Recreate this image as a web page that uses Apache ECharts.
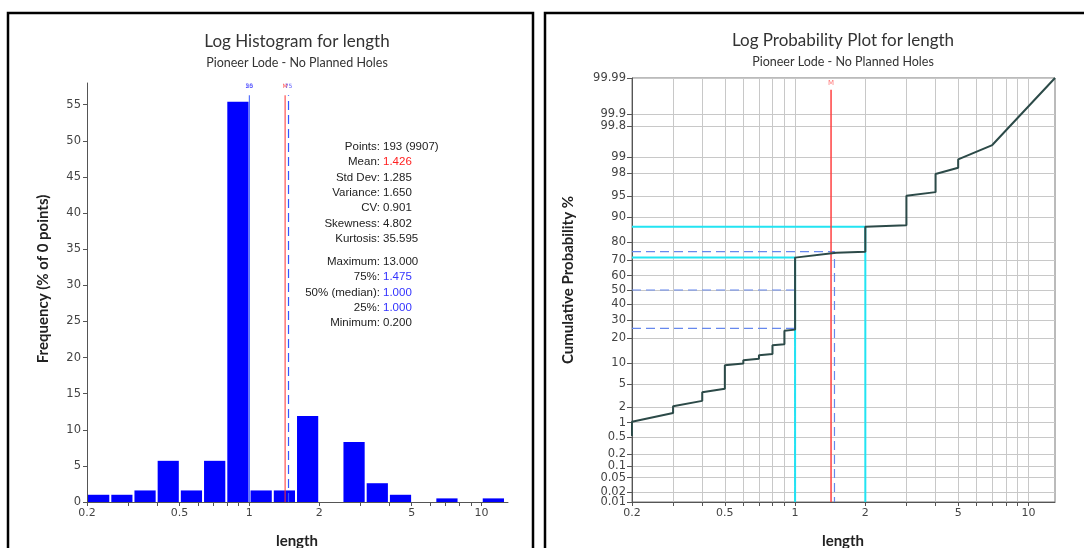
<!DOCTYPE html>
<html><head><meta charset="utf-8">
<script src="https://cdn.jsdelivr.net/npm/echarts@6/dist/echarts.min.js"></script>
<style>html,body{margin:0;padding:0;background:#fff}#c{width:1084px;height:548px}</style>
</head><body><div id="c"></div><script>
// ---------- data ----------
const binEdges = [0.2,0.252,0.317,0.399,0.502,0.632,0.796,1.002,1.262,1.589,2.0,2.518,3.170,3.991,5.024,6.325,7.962,10.02,12.62];
const binFreq  = [1.0,1.0,1.6,5.7,1.6,5.7,55.4,1.6,1.6,11.9,0,8.3,2.6,1.0,0,0.5,0,0.5];
const xLabelTicks = [0.2,0.5,1,2,5,10];
const xMinorTicks = [0.2,0.3,0.4,0.5,0.6,0.7,0.8,0.9,1,2,3,4,5,6,7,8,9,10];
const freqTicks = [0,5,10,15,20,25,30,35,40,45,50,55];
const probTicks = [0.01,0.02,0.05,0.1,0.2,0.5,1,2,5,10,20,30,40,50,60,70,80,90,95,98,99,99.8,99.9,99.99];
const probCurve = [[0.2,0.52],[0.2,1.04],[0.3,1.55],[0.3,2.07],[0.4,2.59],[0.4,3.63],[0.5,4.15],[0.5,9.33],
  [0.6,9.84],[0.6,10.88],[0.7,11.4],[0.7,12.6],[0.8,13.1],[0.8,16.6],[0.9,17.1],[0.9,23.8],[1.0,24.35],[1.0,71.5],
  [1.5,74.3],[2.0,74.9],[2.0,86.6],[3.0,87.2],[3.0,95.1],[4.0,95.7],[4.0,97.9],[5.0,98.4],[5.0,98.9],[7.0,99.45],[13.0,99.99]];
const cyanMarks = [[1.0,71.5],[2.0,86.6]];
const statLabels1 = ['Points:','Mean:','Std Dev:','Variance:','CV:','Skewness:','Kurtosis:'];
const statValues1 = ['193 (9907)','1.426','1.285','1.650','0.901','4.802','35.595'];
const statLabels2 = ['Maximum:','75%:','50% (median):','25%:','Minimum:'];
const statValues2 = ['13.000','1.475','1.000','1.000','0.200'];
const meanVal = 1.426, q75 = 1.475, q50 = 1.0, q25 = 1.0;
const xMin = 0.2, xMax = 13.0;
const freqMax = 58, freqLineTop = 56.3, freqLabelY = 57.5;
const probMin = 0.01, probMax = 99.99, probLineTop = 99.978, probLabelP = 99.986;

// ---------- helpers ----------
function probit(p){
 const a=[-3.969683028665376e+01,2.209460984245205e+02,-2.759285104469687e+02,1.383577518672690e+02,-3.066479806614716e+01,2.506628277459239e+00];
 const b=[-5.447609879822406e+01,1.615858368580409e+02,-1.556989798598866e+02,6.680131188771972e+01,-1.328068155288572e+01];
 const c=[-7.784894002430293e-03,-3.223964580411365e-01,-2.400758277161838e+00,-2.549732539343734e+00,4.374664141464968e+00,2.938163982698783e+00];
 const d=[7.784695709041462e-03,3.224671290700398e-01,2.445134137142996e+00,3.754408661907416e+00];
 const pl=0.02425, ph=1-pl; let q,r;
 if(p<pl){q=Math.sqrt(-2*Math.log(p));return (((((c[0]*q+c[1])*q+c[2])*q+c[3])*q+c[4])*q+c[5])/((((d[0]*q+d[1])*q+d[2])*q+d[3])*q+1);}
 if(p<=ph){q=p-0.5;r=q*q;return (((((a[0]*r+a[1])*r+a[2])*r+a[3])*r+a[4])*r+a[5])*q/(((((b[0]*r+b[1])*r+b[2])*r+b[3])*r+b[4])*r+1);}
 q=Math.sqrt(-2*Math.log(1-p));return -(((((c[0]*q+c[1])*q+c[2])*q+c[3])*q+c[4])*q+c[5])/((((d[0]*q+d[1])*q+d[2])*q+d[3])*q+1);
}
const L = v => Math.log10(v);
const Z = pct => probit(pct/100);
const EPS = 1e-7;
const nearest = (list, f, v) => list.reduce((best,t)=> Math.abs(f(t)-v) < Math.abs(f(best)-v) ? t : best, list[0]);
const xFmt = v => String(nearest(xLabelTicks, L, v));
const pFmt = v => String(nearest(probTicks, Z, v));
const xy = pts => pts.map(p => [L(p[0]), Z(p[1])]);

const labelFont = 'DejaVu Sans';
const axisCol = '#555';
function xAxisCfg(gi, grid){
  return {type:'value', gridIndex:gi, min:L(xMin)-EPS, max:L(xMax)+EPS,
    axisLine:{show:true, onZero:false, lineStyle:{color:axisCol, width:1}},
    axisTick:{show:true, length:4, customValues:xMinorTicks.map(L), lineStyle:{color:axisCol}},
    axisLabel:{customValues:xLabelTicks.map(L), formatter:xFmt, color:'#444', fontSize:11, fontFamily:labelFont, margin:6,
      showMinLabel:true, showMaxLabel:true, hideOverlap:false},
    splitLine:{show:grid, lineStyle:{color:'#c8c8c8', width:1}}};
}
const probAxisBase = {type:'value', gridIndex:1, min:Z(probMin)-EPS, max:Z(probMax)+EPS};

const chart = echarts.init(document.getElementById('c'), null, {renderer:'canvas'});
const txt = (text, x, y, o={}) => ({type:'text', x, y, rotation:o.rot||0, z:10, style:Object.assign({text, align:o.align||'center', verticalAlign:'middle',
  fontSize:o.size||12, fontFamily:o.font||'Lato', fontWeight:o.weight||'normal', fill:o.fill||'#333'})});

const graphics = [
  {type:'rect', shape:{x:8,y:13,width:525,height:560}, style:{fill:null, stroke:'#000', lineWidth:2.5}},
  {type:'rect', shape:{x:545,y:13,width:600,height:560}, style:{fill:null, stroke:'#000', lineWidth:2.5}},
  txt('Log Histogram for length', 297, 42, {size:17}),
  txt('Pioneer Lode - No Planned Holes', 297, 63, {size:12.5}),
  txt('Log Probability Plot for length', 843, 41, {size:17}),
  txt('Pioneer Lode - No Planned Holes', 843, 62, {size:12.5}),
  txt('Frequency (% of 0 points)', 43, 279, {size:15, weight:'bold', rot:Math.PI/2, fill:'#222'}),
  txt('Cumulative Probability %', 568, 280, {size:15, weight:'bold', rot:Math.PI/2, fill:'#222'}),
  txt('length', 297, 541, {size:15, weight:'bold', fill:'#222'}),
  txt('length', 843, 541, {size:15, weight:'bold', fill:'#222'})
];
const valColor = (lbl) => lbl==='Mean:' ? '#ff2020' : (/%/.test(lbl) ? '#3333ff' : '#222');
statLabels1.forEach((l,i)=>{
  graphics.push(txt(l, 380, 147+i*15.3, {align:'right', font:'Liberation Sans', size:11.5, fill:'#222'}));
  graphics.push(txt(statValues1[i], 383, 147+i*15.3, {align:'left', font:'Liberation Sans', size:11.5, fill:valColor(l)}));
});
statLabels2.forEach((l,i)=>{
  graphics.push(txt(l, 380, 262+i*15.2, {align:'right', font:'Liberation Sans', size:11.5, fill:'#222'}));
  graphics.push(txt(statValues2[i], 383, 262+i*15.2, {align:'left', font:'Liberation Sans', size:11.5, fill:valColor(l)}));
});

const barData = binFreq.map((f,i)=>[L(binEdges[i]), L(binEdges[i+1]), f]);

const lineS = (xi, data, color, width, dashed, z) => ({type:'line', xAxisIndex:xi, yAxisIndex:xi, data, symbol:'none', silent:true, z:z||3,
  lineStyle:{color, width, type: dashed ? [9,5] : 'solid'}, animation:false});

const option = {
  animation:false,
  graphic: graphics,
  grid:[
    {left:87, right:576, top:83, bottom:46, show:false},
    {left:632, right:29, top:78, bottom:46, show:true, borderColor:'#777', borderWidth:1}
  ],
  xAxis:[xAxisCfg(0,false), xAxisCfg(1,true)],
  yAxis:[
    {type:'value', gridIndex:0, min:0, max:freqMax,
      axisLine:{show:true, onZero:false, lineStyle:{color:axisCol}},
      axisTick:{show:true, length:4, customValues:freqTicks, lineStyle:{color:axisCol}},
      axisLabel:{customValues:freqTicks, color:'#444', fontSize:11.5, fontFamily:labelFont, margin:6, showMinLabel:true},
      splitLine:{show:false}},
    Object.assign({}, probAxisBase, {
      axisLine:{show:true, onZero:false, lineStyle:{color:axisCol}},
      axisTick:{show:true, length:5, customValues:probTicks.map(Z), lineStyle:{color:axisCol}},
      axisLabel:{customValues:probTicks.slice(1).map(Z), formatter:pFmt, color:'#444', fontSize:11.5, fontFamily:labelFont, margin:6,
        hideOverlap:false},
      splitLine:{show:true, lineStyle:{color:'#c8c8c8', width:1}}}),
    // companion axis carrying only the lowest probability label (keeps it from being dropped as overlapping)
    Object.assign({}, probAxisBase, {position:'left', offset:0,
      axisLine:{show:false, onZero:false}, axisTick:{show:false}, splitLine:{show:false},
      axisLabel:{customValues:[Z(probTicks[0])], formatter:pFmt, color:'#444', fontSize:11.5, fontFamily:labelFont, margin:6,
        showMinLabel:true, hideOverlap:false}})
  ],
  series:[
    lineS(0, [[L(q50),0],[L(q50),freqLineTop]], '#3355ff', 1, false, 1),
    {type:'custom', xAxisIndex:0, yAxisIndex:0, data:barData, encode:{x:[0,1], y:2}, z:2,
      renderItem:(params, api)=>{
        const h = api.value(2); if (!(h>0)) return null;
        const p0 = api.coord([api.value(0), h]);
        const p1 = api.coord([api.value(1), 0]);
        return {type:'rect', shape:{x:p0[0]+1, y:p0[1], width:p1[0]-p0[0]-2, height:p1[1]-p0[1]}, style:{fill:'#0000ff'}};
      }},
    lineS(0, [[L(meanVal),0],[L(meanVal),freqLineTop]], '#ff3030', 1, false, 4),
    lineS(0, [[L(q75),0],[L(q75),freqLineTop]], '#3355ff', 1.2, true, 4),
    {type:'scatter', xAxisIndex:0, yAxisIndex:0, symbolSize:0, silent:true, z:5,
      data:[
        {value:[L(q25),freqLabelY], label:{formatter:'25', color:'#3333ff'}},
        {value:[L(q50),freqLabelY], label:{formatter:'50', color:'#3333ff'}},
        {value:[L(meanVal),freqLabelY], label:{formatter:'M', color:'#ff3030'}},
        {value:[L(q75),freqLabelY], label:{formatter:'75', color:'#3333ff'}}
      ],
      label:{show:true, position:'inside', fontSize:6, fontFamily:'DejaVu Sans'}},
    lineS(1, xy([[xMin,25],[q25,25],[q25,probMin]]), '#6688ee', 1.2, true, 3),
    lineS(1, xy([[xMin,50],[q50,50],[q50,probMin]]), '#6688ee', 1.2, true, 3),
    lineS(1, xy([[xMin,75],[q75,75],[q75,probMin]]), '#6688ee', 1.2, true, 3),
    ...cyanMarks.map(m => lineS(1, xy([[xMin,m[1]],[m[0],m[1]],[m[0],probMin]]), '#22e4f2', 2, false, 4)),
    lineS(1, xy([[meanVal,probMin],[meanVal,probLineTop]]), '#ff4040', 1.5, false, 5),
    {type:'scatter', xAxisIndex:1, yAxisIndex:1, symbolSize:0, silent:true, z:6,
      data:[{value:[L(meanVal), Z(probLabelP)]}],
      label:{show:true, position:'inside', formatter:'M', color:'#ff5050', fontSize:7, fontFamily:'DejaVu Sans'}},
    lineS(1, xy(probCurve), '#2c4a48', 2, false, 7)
  ]
};
chart.setOption(option);
</script></body></html>
